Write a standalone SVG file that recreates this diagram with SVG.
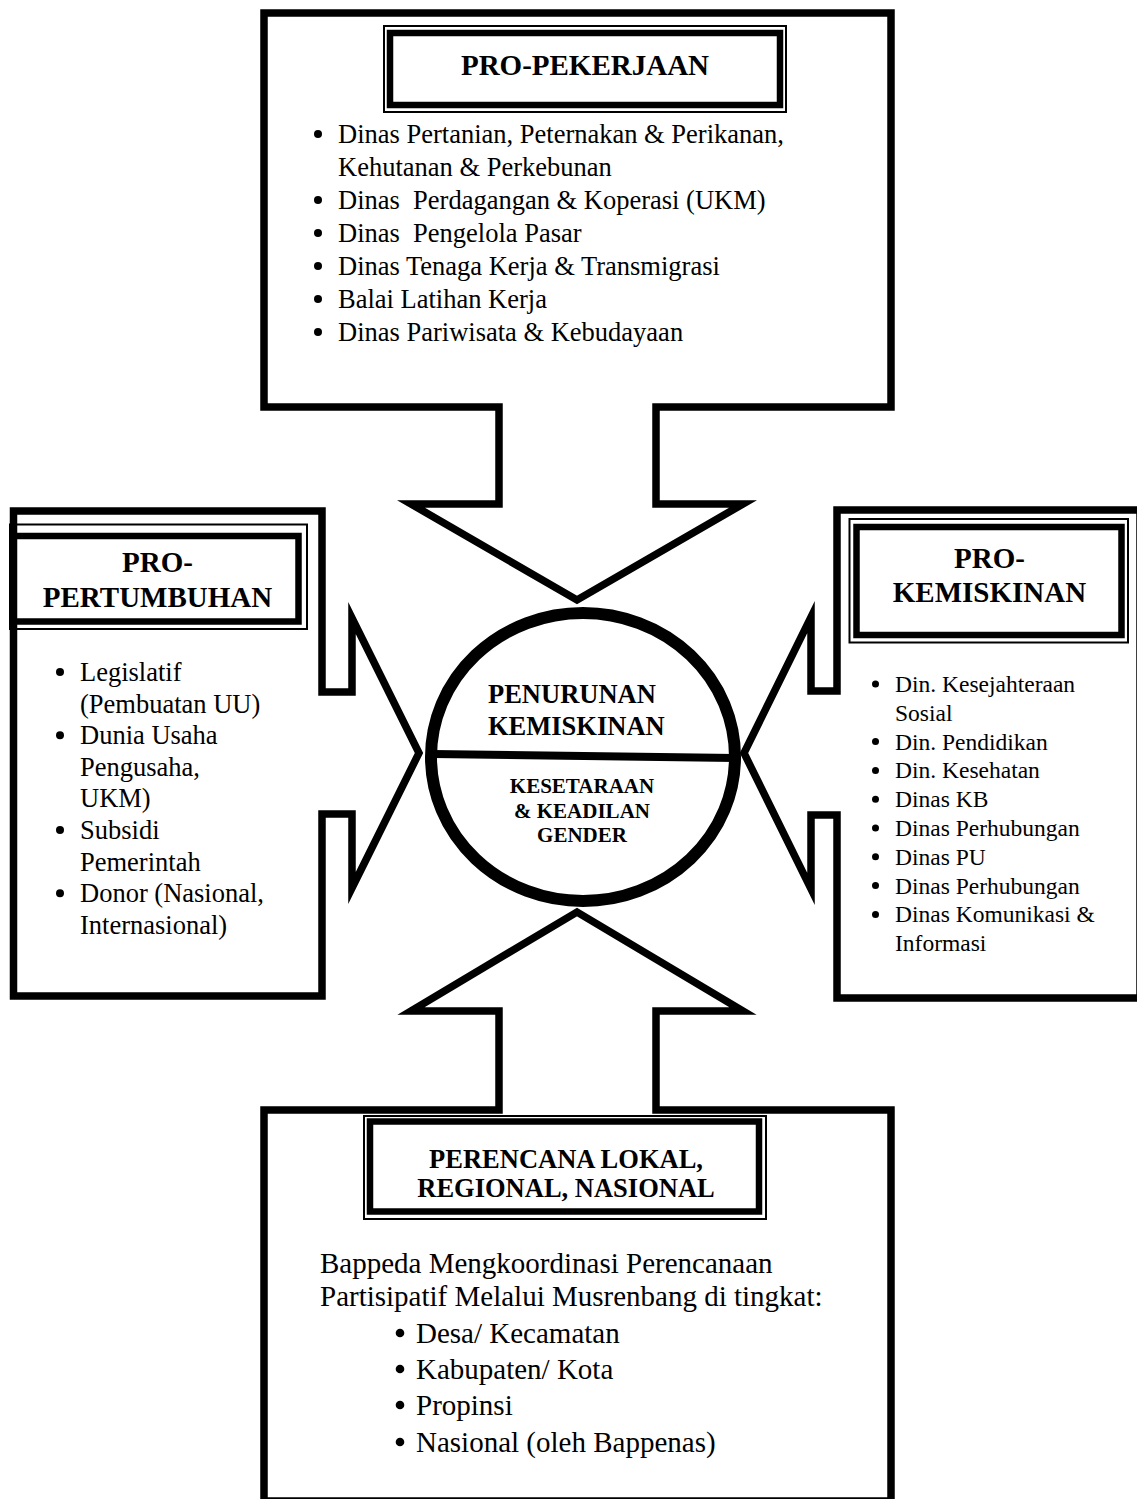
<svg xmlns="http://www.w3.org/2000/svg" width="1137" height="1499" viewBox="0 0 1137 1499">
<style>
.frame{fill:#fff;stroke:#000;stroke-width:7.5;stroke-linejoin:miter;stroke-miterlimit:10}
.thick{fill:none;stroke:#000;stroke-width:6.5}
.thin{fill:none;stroke:#000;stroke-width:2}
.t{font-family:"Liberation Serif","Times New Roman",serif;fill:#000}
.title{font-weight:bold;font-size:29px;text-anchor:middle}
.b26{font-size:26.5px;white-space:pre}
.b23{font-size:23.5px}
.b29{font-size:29px}
.dot{fill:#000}
.c1{font-weight:bold;font-size:26.5px}
.c2{font-weight:bold;font-size:21px;text-anchor:middle}
</style>
<rect width="1137" height="1499" fill="#fff"/>

<g id="node-pro-pekerjaan">
<path class="frame" d="M264,13 H891 V407 H656 V504 H743 L577,600 L411,504 H499 V407 H264 Z"/>
<rect class="thin" x="384" y="26" width="402" height="86"/>
<rect class="thick" x="390" y="33" width="390" height="72"/>
<text class="t title" x="585" y="75">PRO-PEKERJAAN</text>
<g class="dot">
<circle cx="318" cy="134" r="4"/><circle cx="318" cy="200" r="4"/><circle cx="318" cy="233" r="4"/>
<circle cx="318" cy="266" r="4"/><circle cx="318" cy="299" r="4"/><circle cx="318" cy="332" r="4"/>
</g>
<g class="t b26">
<text x="338" y="143">Dinas Pertanian, Peternakan &amp; Perikanan,</text>
<text x="338" y="176">Kehutanan &amp; Perkebunan</text>
<text x="338" y="209" xml:space="preserve">Dinas  Perdagangan &amp; Koperasi (UKM)</text>
<text x="338" y="242" xml:space="preserve">Dinas  Pengelola Pasar</text>
<text x="338" y="275">Dinas Tenaga Kerja &amp; Transmigrasi</text>
<text x="338" y="308">Balai Latihan Kerja</text>
<text x="338" y="341">Dinas Pariwisata &amp; Kebudayaan</text>
</g>
</g>

<g id="node-pro-pertumbuhan">
<path class="frame" d="M13.5,511 H322 V692 H352 V618 L419,753 L352,888 V814 H322 V996 H13.5 Z"/>
<rect class="thin" x="10" y="524.5" width="297" height="104.5"/>
<rect class="thick" x="13" y="536" width="285.5" height="85.5"/>
<text class="t title" x="157.5" y="572">PRO-</text>
<text class="t title" x="157.5" y="607">PERTUMBUHAN</text>
<g class="dot">
<circle cx="60" cy="672" r="4"/><circle cx="60" cy="735.2" r="4"/><circle cx="60" cy="830" r="4"/><circle cx="60" cy="893.2" r="4"/>
</g>
<g class="t b26">
<text x="80" y="681">Legislatif</text>
<text x="80" y="712.6">(Pembuatan UU)</text>
<text x="80" y="744.2">Dunia Usaha</text>
<text x="80" y="775.8">Pengusaha,</text>
<text x="80" y="807.4">UKM)</text>
<text x="80" y="839">Subsidi</text>
<text x="80" y="870.6">Pemerintah</text>
<text x="80" y="902.2">Donor (Nasional,</text>
<text x="80" y="933.8">Internasional)</text>
</g>
</g>

<g id="node-pro-kemiskinan">
<path class="frame" d="M1140,510 H837 V691 H811 V617 L744,753 L811,889 V815 H837 V998 H1140 Z"/>
<rect class="thin" x="849.5" y="519" width="278.5" height="123.5"/>
<rect class="thick" x="856.5" y="527" width="265" height="108"/>
<text class="t title" x="989.5" y="568">PRO-</text>
<text class="t title" x="989.5" y="602">KEMISKINAN</text>
<g class="dot">
<circle cx="875.5" cy="684" r="3.5"/><circle cx="875.5" cy="741.6" r="3.5"/><circle cx="875.5" cy="770.4" r="3.5"/>
<circle cx="875.5" cy="799.2" r="3.5"/><circle cx="875.5" cy="828" r="3.5"/><circle cx="875.5" cy="856.8" r="3.5"/>
<circle cx="875.5" cy="885.6" r="3.5"/><circle cx="875.5" cy="914.4" r="3.5"/>
</g>
<g class="t b23">
<text x="895" y="692">Din. Kesejahteraan</text>
<text x="895" y="720.8">Sosial</text>
<text x="895" y="749.6">Din. Pendidikan</text>
<text x="895" y="778.4">Din. Kesehatan</text>
<text x="895" y="807.2">Dinas KB</text>
<text x="895" y="836">Dinas Perhubungan</text>
<text x="895" y="864.8">Dinas PU</text>
<text x="895" y="893.6">Dinas Perhubungan</text>
<text x="895" y="922.4">Dinas Komunikasi &amp;</text>
<text x="895" y="951.2">Informasi</text>
</g>
</g>

<g id="node-perencana">
<path class="frame" d="M264,1110 H499 V1011 H411 L577,912 L743,1011 H656 V1110 H891 V1501 H264 Z"/>
<rect class="thin" x="364" y="1116" width="402" height="103"/>
<rect class="thick" x="370" y="1121.5" width="389" height="90"/>
<text class="t title" x="566" y="1168" style="font-size:26.5px">PERENCANA LOKAL,</text>
<text class="t title" x="566" y="1197" style="font-size:26.5px">REGIONAL, NASIONAL</text>
<g class="dot">
<circle cx="400" cy="1333" r="4.3"/><circle cx="400" cy="1369" r="4.3"/><circle cx="400" cy="1405" r="4.3"/><circle cx="400" cy="1442" r="4.3"/>
</g>
<g class="t b29">
<text x="320" y="1273">Bappeda Mengkoordinasi Perencanaan</text>
<text x="320" y="1306">Partisipatif Melalui Musrenbang di tingkat:</text>
<text x="416" y="1343">Desa/ Kecamatan</text>
<text x="416" y="1379">Kabupaten/ Kota</text>
<text x="416" y="1415">Propinsi</text>
<text x="416" y="1452">Nasional (oleh Bappenas)</text>
</g>
</g>

<g id="node-center">
<ellipse cx="583" cy="757" rx="152" ry="144" fill="#fff" stroke="#000" stroke-width="12"/>
<line x1="433" y1="754" x2="735" y2="758" stroke="#000" stroke-width="8"/>
<text class="t c1" x="488" y="703">PENURUNAN</text>
<text class="t c1" x="488" y="735">KEMISKINAN</text>
<text class="t c2" x="582" y="793">KESETARAAN</text>
<text class="t c2" x="582" y="818">&amp; KEADILAN</text>
<text class="t c2" x="582" y="842">GENDER</text>
</g>

<g id="connectors"></g>
</svg>
